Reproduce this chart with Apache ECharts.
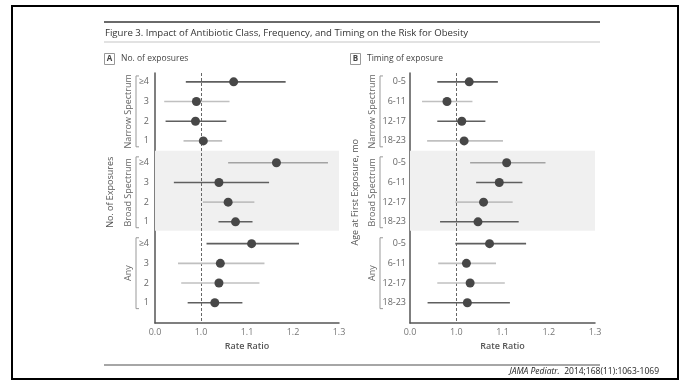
<!DOCTYPE html>
<html><head><meta charset="utf-8">
<script src="https://cdn.jsdelivr.net/npm/echarts@6/dist/echarts.min.js"></script>
<style>html,body{margin:0;padding:0;background:#fff}#c{width:683px;height:380px}</style>
</head><body><div id="c"></div><script>
// ---------- data ----------
const groupNames = ['Narrow Spectrum', 'Broad Spectrum', 'Any'];
const exposureLabels = ['≥4', '3', '2', '1'];
const timingLabels = ['0-5', '6-11', '12-17', '18-23'];
const xTickLabels = ['0.0', '1.0', '1.1', '1.2', '1.3'];

// Panel A: number of exposures (rate ratio, lower CI, upper CI)
const aNarrowRR = [1.071, 0.990, 0.988, 1.005];
const aNarrowLo = [0.967, 0.920, 0.923, 0.962];
const aNarrowHi = [1.184, 1.062, 1.055, 1.046];
const aBroadRR  = [1.164, 1.039, 1.059, 1.075];
const aBroadLo  = [1.059, 0.941, 1.004, 1.038];
const aBroadHi  = [1.276, 1.148, 1.116, 1.112];
const aAnyRR    = [1.110, 1.042, 1.039, 1.030];
const aAnyLo    = [1.012, 0.950, 0.957, 0.971];
const aAnyHi    = [1.213, 1.138, 1.127, 1.090];

// Panel B: timing of exposure
const bNarrowRR = [1.028, 0.980, 1.012, 1.017];
const bNarrowLo = [0.959, 0.926, 0.959, 0.937];
const bNarrowHi = [1.090, 1.035, 1.063, 1.101];
const bBroadRR  = [1.109, 1.093, 1.059, 1.047];
const bBroadLo  = [1.030, 1.043, 0.998, 0.965];
const bBroadHi  = [1.193, 1.143, 1.122, 1.135];
const bAnyRR    = [1.072, 1.022, 1.030, 1.024];
const bAnyLo    = [0.998, 0.961, 0.959, 0.938];
const bAnyHi    = [1.151, 1.086, 1.105, 1.116];

// ---------- style ----------
const SHADE_COLORS = ['#5f5f5f', '#a3a3a3', '#c0c0c0'];
const SHADES = [[0, 2, 0, 2], [1, 0, 2, 0], [0, 2, 2, 0]];
const GROUP_STEP = 4.11;
const FONT = '"Open Sans", sans-serif';

function buildRows(sets, labels) {
  const rows = [];
  sets.forEach((s, g) => {
    labels.forEach((lab, r) => {
      rows.push({ rr: s[0][r], lo: s[1][r], hi: s[2][r], lab, y: g * GROUP_STEP + r, shade: SHADES[g][r] });
    });
  });
  return rows;
}
const rowsA = buildRows([[aNarrowRR, aNarrowLo, aNarrowHi], [aBroadRR, aBroadLo, aBroadHi], [aAnyRR, aAnyLo, aAnyHi]], exposureLabels);
const rowsB = buildRows([[bNarrowRR, bNarrowLo, bNarrowHi], [bBroadRR, bBroadLo, bBroadHi], [bAnyRR, bAnyLo, bAnyHi]], timingLabels);
const groupSpans = groupNames.map((n, g) => [g * GROUP_STEP, g * GROUP_STEP + 3]);

const X_MIN = 0.9, X_MAX = 1.3;
function xFmt(v) {
  const i = Math.round((v - X_MIN) / 0.1);
  return xTickLabels[i] !== undefined ? xTickLabels[i] : '';
}

function axesFor(idx) {
  return {
    x: {
      type: 'value', gridIndex: idx, min: X_MIN, max: X_MAX, interval: 0.1,
      axisLine: { onZero: false, lineStyle: { color: '#555', width: 1.5 } },
      axisTick: { show: false }, splitLine: { show: false },
      axisLabel: { formatter: xFmt, color: '#777', fontSize: 9, fontFamily: FONT, margin: 5 },
      name: 'Rate Ratio', nameLocation: 'middle', nameGap: 18,
      nameTextStyle: { fontSize: 9, color: '#555', fontFamily: FONT, fontWeight: 600 }
    },
    y: {
      type: 'value', gridIndex: idx, inverse: true, min: -0.45, max: 12.25,
      axisLine: { show: true, onZero: false, lineStyle: { color: '#555', width: 1.5 } },
      axisTick: { show: false }, axisLabel: { show: false }, splitLine: { show: false }
    }
  };
}
const axA = axesFor(0), axB = axesFor(1);

function seriesFor(idx, rows, labelOff, bracketOff, groupOff) {
  const band = [GROUP_STEP - 0.61, GROUP_STEP + 3.45];
  return [
    {
      type: 'custom', xAxisIndex: idx, yAxisIndex: idx, z: 4, clip: false,
      data: rows.map(o => [o.lo, o.hi, o.y]),
      encode: { x: [0, 1], y: 2 },
      renderItem: (params, api) => {
        const o = rows[params.dataIndex];
        const p1 = api.coord([api.value(0), api.value(2)]);
        const p2 = api.coord([api.value(1), api.value(2)]);
        const left = api.coord([X_MIN, api.value(2)]);
        return {
          type: 'group', children: [
            { type: 'line', shape: { x1: p1[0], y1: p1[1], x2: p2[0], y2: p2[1] },
              style: { stroke: SHADE_COLORS[o.shade], lineWidth: 1.6 } },
            { type: 'text', x: left[0] - labelOff, y: left[1],
              style: { text: o.lab, fill: '#666', font: '9px ' + FONT, align: 'right', verticalAlign: 'middle' } }
          ]
        };
      }
    },
    {
      type: 'custom', xAxisIndex: idx, yAxisIndex: idx, z: 4, clip: false,
      data: groupSpans.map(s => [X_MIN, s[0], s[1]]),
      encode: { x: 0, y: [1, 2] },
      renderItem: (params, api) => {
        const t = api.coord([X_MIN, api.value(1) - 0.3]);
        const b = api.coord([X_MIN, api.value(2) + 0.3]);
        const bx = t[0] - bracketOff;
        return {
          type: 'group', children: [
            { type: 'polyline', shape: { points: [[bx + 3, t[1]], [bx, t[1]], [bx, b[1]], [bx + 3, b[1]]] },
              style: { stroke: '#999', lineWidth: 1, fill: null } },
            { type: 'text', x: t[0] - groupOff, y: (t[1] + b[1]) / 2, rotation: Math.PI / 2,
              style: { text: groupNames[params.dataIndex], fill: '#666', font: '9px ' + FONT, align: 'center', verticalAlign: 'middle' } }
          ]
        };
      }
    },
    {
      type: 'scatter', xAxisIndex: idx, yAxisIndex: idx, z: 10,
      data: rows.map(o => [o.rr, o.y]),
      symbolSize: 9, itemStyle: { color: '#474747', opacity: 1 },
      markArea: { silent: true, z: 1, itemStyle: { color: '#f0f0f0' },
        data: [[{ yAxis: band[0] }, { yAxis: band[1] }]] },
      markLine: { silent: true, z: 3, symbol: 'none', label: { show: false },
        lineStyle: { color: '#666', type: [3, 2], width: 1 },
        data: [{ xAxis: 1.0 }] }
    }
  ];
}

const chart = echarts.init(document.getElementById('c'), null, { renderer: 'canvas' });
const option = {
  animation: false,
  backgroundColor: '#fff',
  textStyle: { fontFamily: FONT },
  grid: [
    { left: 155, top: 73, width: 184, height: 250 },
    { left: 410, top: 73, width: 185, height: 250 }
  ],
  xAxis: [axA.x, axB.x],
  yAxis: [axA.y, axB.y],
  series: [
    ...seriesFor(0, rowsA, 6, 19, 27),
    ...seriesFor(1, rowsB, 4, 30, 38)
  ],
  graphic: [
    { type: 'rect', shape: { x: 12, y: 6, width: 666, height: 373 }, style: { fill: null, stroke: '#000', lineWidth: 2 } },
    { type: 'line', shape: { x1: 104, y1: 22, x2: 600, y2: 22 }, style: { stroke: '#6a6a6a', lineWidth: 2 } },
    { type: 'text', x: 105, y: 33, style: { text: 'Figure 3. Impact of Antibiotic Class, Frequency, and Timing on the Risk for Obesity', font: '9.6px ' + FONT, fill: '#333', verticalAlign: 'middle' } },
    { type: 'line', shape: { x1: 104, y1: 42, x2: 600, y2: 42 }, style: { stroke: '#d8d8d8', lineWidth: 1.5 } },
    { type: 'rect', shape: { x: 104.5, y: 53.5, width: 10, height: 11 }, style: { fill: '#fff', stroke: '#999', lineWidth: 1 } },
    { type: 'text', x: 109.5, y: 59, style: { text: 'A', font: 'bold 8px ' + FONT, fill: '#444', align: 'center', verticalAlign: 'middle' } },
    { type: 'text', x: 121, y: 59, style: { text: 'No. of exposures', font: '8.5px ' + FONT, fill: '#444', verticalAlign: 'middle' } },
    { type: 'rect', shape: { x: 350.5, y: 53.5, width: 10, height: 11 }, style: { fill: '#fff', stroke: '#999', lineWidth: 1 } },
    { type: 'text', x: 355.5, y: 59, style: { text: 'B', font: 'bold 8px ' + FONT, fill: '#444', align: 'center', verticalAlign: 'middle' } },
    { type: 'text', x: 367, y: 59, style: { text: 'Timing of exposure', font: '8.5px ' + FONT, fill: '#444', verticalAlign: 'middle' } },
    { type: 'line', shape: { x1: 104, y1: 365, x2: 600, y2: 365 }, style: { stroke: '#888', lineWidth: 1.5 } },
    { type: 'text', x: 659, y: 372, style: { rich: { i: { fontStyle: 'italic', fontSize: 8.5, fontFamily: FONT, fill: '#222' }, n: { fontSize: 8.5, fontFamily: FONT, fill: '#222' } }, text: '{i|JAMA Pediatr.}{n|  2014;168(11):1063-1069}', align: 'right', verticalAlign: 'middle' } }
  ]
};
chart.setOption(option);

// outer y-axis titles centred on the row range
const midY = (0 + 2 * GROUP_STEP + 3) / 2;
const pA = chart.convertToPixel({ gridIndex: 0 }, [X_MIN, midY]);
const pB = chart.convertToPixel({ gridIndex: 1 }, [X_MIN, midY]);
chart.setOption({
  graphic: option.graphic.concat([
    { type: 'text', x: pA[0] - 45, y: pA[1], rotation: Math.PI / 2, style: { text: 'No. of Exposures', font: '9px ' + FONT, fill: '#555', align: 'center', verticalAlign: 'middle' } },
    { type: 'text', x: pB[0] - 55, y: pB[1], rotation: Math.PI / 2, style: { text: 'Age at First Exposure, mo', font: '9px ' + FONT, fill: '#555', align: 'center', verticalAlign: 'middle' } }
  ])
});
</script></body></html>
